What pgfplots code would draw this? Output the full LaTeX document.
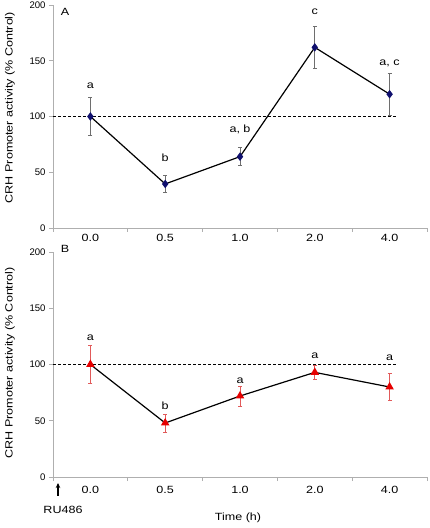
\documentclass[border=0pt]{standalone}
\usepackage{fontspec}
\setmainfont{Liberation Sans}
\newfontfamily\wide[FakeStretch=1.2]{Liberation Sans}
\usepackage{pgfplots}
\pgfplotsset{compat=1.18}
\usepackage{pgfplotstable}
\usetikzlibrary{arrows.meta}
\definecolor{navy}{RGB}{15,15,110}
\definecolor{axgray}{RGB}{175,175,175}
\definecolor{ebgray}{RGB}{110,110,110}
\definecolor{mred}{RGB}{230,0,0}
\definecolor{ebred}{RGB}{225,90,90}
\newcommand\lab{\wide\fontsize{10.5}{12}\selectfont}

\pgfplotstableread{
x y e
0 100 17
1 39.5 7.5
2 64 8
3 162 19
4 120 19
}\tabA
\pgfplotstableread{
x y e
0 100 17
1 48 8
2 72 9
3 93 6
4 80 12
}\tabB

\pgfplotsset{
 panel/.style={
  scale only axis, width=374bp, clip=false,
  xmin=-0.5, xmax=4.5, ymin=0, ymax=200,
  ytick={0,50,100,150,200},
  xtick={-0.5,0.5,1.5,2.5,3.5,4.5},
  x tick label as interval,
  xticklabels={0.0,0.5,1.0,2.0,4.0},
  axis x line*=bottom, axis y line*=left,
  axis line style={axgray, line width=0.8bp},
  tick style={axgray, line width=0.8bp},
  tick align=outside, major tick length=4bp,
  xticklabel style={font=\lab, text=black},
  yticklabel style={font=\fontsize{9.6}{11}\selectfont, text=black},
  /pgf/number format/assume math mode=true,
  ylabel={CRH Promoter activity (\% Control)},
  ylabel style={font=\lab, anchor=center, rotate=0},
 }
}

\begin{document}
\begin{tikzpicture}
\useasboundingbox (0,0) rectangle (430bp,528bp);
% Panel A
\begin{axis}[panel, at={(53bp,300bp)}, anchor=south west, height=223bp,
  ylabel style={at={(axis description cs:-0.115,0.54)}},
  xticklabel style={yshift=1bp}]
\addplot[black, dashed, line width=0.9bp, dash pattern=on 3bp off 2bp] coordinates {(-0.5,100) (4.1,100)};
\addplot[black, line width=1.2bp, mark=diamond*, mark size=3.3bp,
  mark options={fill=navy, draw=navy, solid},
  error bars/.cd, y dir=both, y explicit,
  error bar style={ebgray, line width=0.7bp},
  error mark options={rotate=90, mark size=2bp, ebgray, line width=0.7bp}]
  table[x=x, y=y, y error=e] {\tabA};
\node[font=\lab] at (axis cs:0,128) {a};
\node[font=\lab] at (axis cs:1,63) {b};
\node[font=\lab] at (axis cs:2,88) {a, b};
\node[font=\lab] at (axis cs:3,194) {c};
\node[font=\lab] at (axis cs:4,148) {a, c};
\node[font=\lab] at (axis description cs:0.032,0.969) {A};
\end{axis}
% Panel B
\begin{axis}[panel, at={(53bp,51bp)}, anchor=south west, height=225bp,
  ylabel style={at={(axis description cs:-0.115,0.507)}},
  xticklabel style={yshift=-2bp}]
\addplot[black, dashed, line width=0.9bp, dash pattern=on 3bp off 2bp] coordinates {(-0.5,100) (4.1,100)};
\addplot[black, line width=1.2bp, mark=triangle*, mark size=3.8bp,
  mark options={fill=mred, draw=mred, solid},
  error bars/.cd, y dir=both, y explicit,
  error bar style={ebred, line width=0.7bp},
  error mark options={rotate=90, mark size=2bp, ebred, line width=0.7bp}]
  table[x=x, y=y, y error=e] {\tabB};
\node[font=\lab] at (axis cs:0,124) {a};
\node[font=\lab] at (axis cs:1,63) {b};
\node[font=\lab] at (axis cs:2,86) {a};
\node[font=\lab] at (axis cs:3,108) {a};
\node[font=\lab] at (axis cs:4,106) {a};
\node[font=\lab] at (axis description cs:0.032,1.013) {B};
\end{axis}
\draw[-{Stealth[length=5bp,width=4.5bp]}, line width=1.4bp] (58bp,32bp) -- (58bp,45bp);
\node[font=\lab] at (63bp,18bp) {RU486};
\node[font=\lab] at (238bp,10bp) {Time (h)};
\end{tikzpicture}
\end{document}
